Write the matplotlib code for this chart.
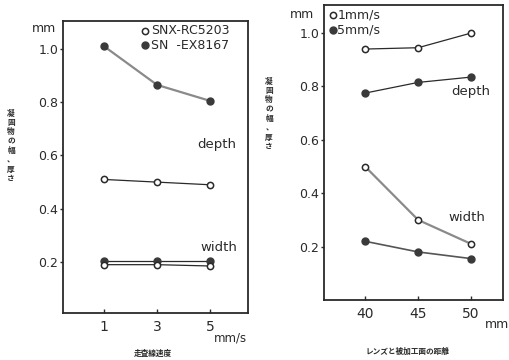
import matplotlib
matplotlib.use("Agg")
import matplotlib.pyplot as plt

plt.rcParams['font.family'] = ['DejaVu Sans', 'Noto Sans CJK JP']

# Left panel: scanning speed
speed = [1, 3, 5]
speed_ticks = [1, 3, 5]
ex_depth = [1.01, 0.865, 0.805]
rc_depth = [0.51, 0.50, 0.49]
ex_width = [0.205, 0.205, 0.205]
rc_width = [0.19, 0.19, 0.185]

# Right panel: lens distance
dist = [40, 45, 50]
dist_ticks = [40, 45, 50]
s1_depth = [0.94, 0.945, 1.0]
s5_depth = [0.775, 0.815, 0.835]
s1_width = [0.50, 0.30, 0.21]
s5_width = [0.22, 0.18, 0.155]

y_ticks = [0.2, 0.4, 0.6, 0.8, 1.0]
y_ticklabels = ["0.2", "0.4", "0.6", "0.8", "1.0"]

ylabel_text = '凝固物の幅、厚さ'

W, H = 510, 360
fig = plt.figure(figsize=(W / 100, H / 100), dpi=100)
fig.patch.set_facecolor('white')

def px_axes(x0, x1, top, bottom):
    return fig.add_axes([x0 / W, (H - bottom) / H, (x1 - x0) / W, (bottom - top) / H])

ink = '#2a2a2a'
gray = '#8a8a8a'
jp = ['Noto Sans CJK JP']

def style(ax):
    for s in ax.spines.values():
        s.set_color(ink)
        s.set_linewidth(1.3)
    ax.tick_params(axis='y', direction='out', length=2.5, width=1, colors=ink, labelsize=9, pad=1)
    ax.tick_params(axis='x', direction='in', length=3, width=1, colors=ink, labelsize=10, pad=5)
    ax.set_yticks(y_ticks)
    ax.set_yticklabels(y_ticklabels)

mk_open = dict(marker='o', markersize=4.5, markerfacecolor='white', markeredgecolor=ink, markeredgewidth=1.1)
mk_fill = dict(marker='o', markersize=5, markerfacecolor='#3a3a3a', markeredgecolor='#3a3a3a')

def vertical_label(x, y, s):
    fig.text(x / W, 1 - y / H, '\n'.join(s), fontsize=5.5, family=jp, weight='bold', color=ink,
             ha='center', va='center', linespacing=1.05)

# ---- Left ----
ax1 = px_axes(63, 248, 21, 313)
ax1.set_xlim(-0.55, 6.43)
ax1.set_ylim(0.0085, 1.105)
style(ax1)
ax1.set_xticks(speed_ticks)
ax1.plot(speed, ex_depth, color=gray, lw=1.6, **mk_fill)
ax1.plot(speed, rc_depth, color=ink, lw=0.9, **mk_open)
ax1.plot(speed, ex_width, color=ink, lw=0.9, **mk_fill)
ax1.plot(speed, rc_width, color=ink, lw=0.9, **mk_open)
ax1.text(4.5, 0.64, 'depth', fontsize=9.5, color=ink, ha='left', va='center')
ax1.text(4.65, 0.255, 'width', fontsize=9.5, color=ink, ha='left', va='center')
# legend
ax1.plot([0.445], [0.967], transform=ax1.transAxes, clip_on=False, **mk_open)
ax1.plot([0.445], [0.917], transform=ax1.transAxes, clip_on=False, **mk_fill)
ax1.text(0.475, 0.967, 'SNX-RC5203', transform=ax1.transAxes, fontsize=9, color=ink, va='center')
ax1.text(0.475, 0.917, 'SN  -EX8167', transform=ax1.transAxes, fontsize=9, color=ink, va='center')
fig.text(44 / W, 1 - 29 / H, 'mm', fontsize=9, color=ink, ha='center', va='center')
fig.text(230 / W, 1 - 338 / H, 'mm/s', fontsize=8.5, color=ink, ha='center', va='center')
fig.text(153 / W, 1 - 353 / H, '走査線速度', fontsize=5.5, family=jp, weight='bold', color=ink, ha='center', va='center')
vertical_label(11, 146, ylabel_text)

# ---- Right ----
ax2 = px_axes(324, 503, 5, 300)
ax2.set_xlim(36.13, 53.0)
ax2.set_ylim(0.0, 1.105)
style(ax2)
ax2.set_xticks(dist_ticks)
ax2.plot(dist, s1_depth, color=ink, lw=0.9, **mk_open)
ax2.plot(dist, s5_depth, color=ink, lw=0.9, **mk_fill)
ax2.plot(dist, s1_width, color=gray, lw=1.6, **mk_open)
ax2.plot(dist, s5_width, color='#555555', lw=1.2, **mk_fill)
ax2.text(48.1, 0.78, 'depth', fontsize=9.5, color=ink, ha='left', va='center')
ax2.text(47.9, 0.31, 'width', fontsize=9.5, color=ink, ha='left', va='center')
ax2.plot([0.05], [0.965], transform=ax2.transAxes, clip_on=False, **mk_open)
ax2.plot([0.05], [0.915], transform=ax2.transAxes, clip_on=False, **mk_fill)
ax2.text(0.075, 0.965, '1mm/s', transform=ax2.transAxes, fontsize=9, color=ink, va='center')
ax2.text(0.075, 0.915, '5mm/s', transform=ax2.transAxes, fontsize=9, color=ink, va='center')
fig.text(302 / W, 1 - 14 / H, 'mm', fontsize=9, color=ink, ha='center', va='center')
fig.text(497 / W, 1 - 324 / H, 'mm', fontsize=9, color=ink, ha='center', va='center')
fig.text(407 / W, 1 - 351 / H, 'レンズと被加工面の距離', fontsize=5.5, family=jp, weight='bold', color=ink,
         ha='center', va='center')
vertical_label(269, 114, ylabel_text)

fig.savefig('out.png', dpi=100, facecolor='white')
